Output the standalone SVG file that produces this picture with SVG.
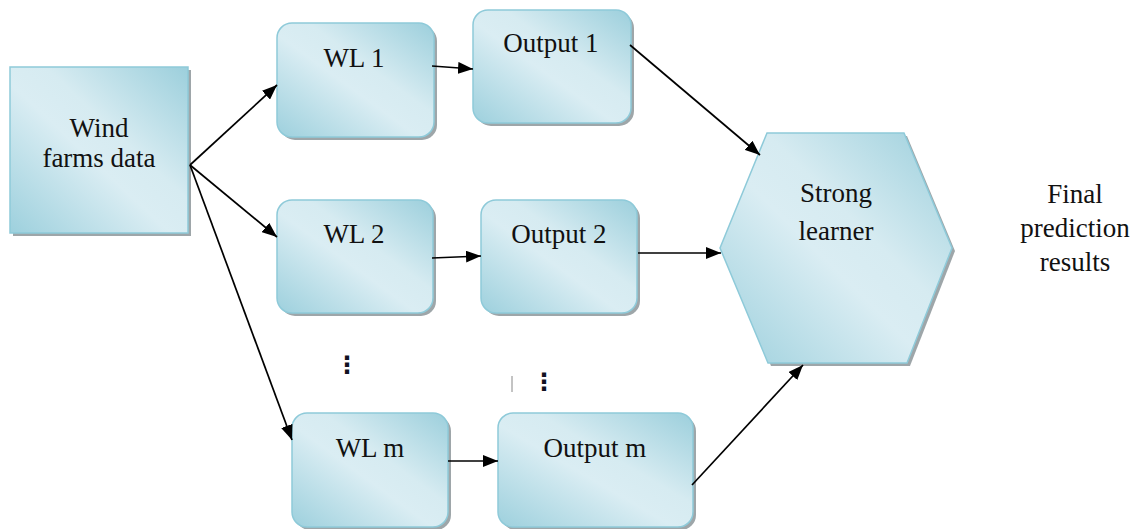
<svg xmlns="http://www.w3.org/2000/svg" width="1135" height="529" viewBox="0 0 1135 529">
<style>
.shape{fill:url(#g);stroke:#8ecad9;stroke-width:1.5}
.shadow{fill:#9ea6a9}
.t{font-family:'Times New Roman','Liberation Serif','DejaVu Serif','Nimbus Roman','Tinos','FreeSerif',Times,serif;font-size:27px;fill:#111;text-anchor:middle}
.c{stroke:#000;stroke-width:1.7;fill:none;marker-end:url(#ah)}
.d{font-family:'DejaVu Sans',sans-serif;font-size:24px;font-weight:bold;text-anchor:middle;fill:#112}
</style>
<defs>
<linearGradient id="g" x1="0" y1="1" x2="1" y2="0">
<stop offset="0" stop-color="#9dd0dd"/>
<stop offset="0.45" stop-color="#daedf3"/>
<stop offset="0.6" stop-color="#d6ebf1"/>
<stop offset="1" stop-color="#9ccfdc"/>
</linearGradient>
<marker id="ah" viewBox="0 0 15 12" refX="15" refY="6" markerWidth="15" markerHeight="12" markerUnits="userSpaceOnUse" orient="auto">
<path d="M0,0 L15,6 L0,12 z" fill="#000"/>
</marker>
</defs>
<rect width="1135" height="529" fill="#fff"/>

<g id="wind">
<rect class="shadow" x="13" y="70" width="178" height="166"/>
<rect class="shape" x="10" y="67" width="178" height="166"/>
<text class="t" x="99" y="137">Wind</text>
<text class="t" x="99" y="167">farms data</text>
</g>

<g id="wl1">
<rect class="shadow" x="280" y="26" width="157" height="114" rx="15"/>
<rect class="shape" x="277" y="23" width="157" height="114" rx="15"/>
<text class="t" x="354" y="67">WL 1</text>
</g>
<g id="out1">
<rect class="shadow" x="476" y="13" width="158" height="113" rx="15"/>
<rect class="shape" x="473" y="10" width="158" height="113" rx="15"/>
<text class="t" x="551" y="52">Output 1</text>
</g>
<g id="wl2">
<rect class="shadow" x="280" y="203" width="156" height="113" rx="15"/>
<rect class="shape" x="277" y="200" width="156" height="113" rx="15"/>
<text class="t" x="354" y="243">WL 2</text>
</g>
<g id="out2">
<rect class="shadow" x="484" y="203" width="156" height="113" rx="15"/>
<rect class="shape" x="481" y="200" width="156" height="113" rx="15"/>
<text class="t" x="559" y="243">Output 2</text>
</g>
<g id="wlm">
<rect class="shadow" x="295" y="416" width="156" height="114" rx="15"/>
<rect class="shape" x="292" y="413" width="156" height="114" rx="15"/>
<text class="t" x="370" y="457">WL m</text>
</g>
<g id="outm">
<rect class="shadow" x="501" y="416" width="195" height="114" rx="15"/>
<rect class="shape" x="498" y="413" width="195" height="114" rx="15"/>
<text class="t" x="595" y="457">Output m</text>
</g>
<g id="strong">
<polygon class="shadow" points="770,136 907,136 955,251 910,366 771,366 723,251"/>
<polygon class="shape" points="767,133 904,133 952,248 907,363 768,363 720,248"/>
<text class="t" x="836" y="202">Strong</text>
<text class="t" x="836" y="240">learner</text>
</g>
<g id="final">
<text class="t" x="1075" y="203">Final</text>
<text class="t" x="1075" y="237">prediction</text>
<text class="t" x="1075" y="271">results</text>
</g>
<g id="dots">
<text class="d" x="347" y="373">⋮</text>
<text class="d" x="544" y="390">⋮</text>
<line x1="512" y1="376" x2="512" y2="392" stroke="#888" stroke-width="1"/>
</g>

<g id="connectors">
<path class="c" d="M190,165 L277,85"/>
<path class="c" d="M190,165 L277,237"/>
<path class="c" d="M190,165 L292,440"/>
<path class="c" d="M432,66 L473,69"/>
<path class="c" d="M432,258 L481,256"/>
<path class="c" d="M448,461 L498,461"/>
<path class="c" d="M630,45 L760,155"/>
<path class="c" d="M638,253 L721,253"/>
<path class="c" d="M692,485 L803,365"/>
</g>
</svg>
